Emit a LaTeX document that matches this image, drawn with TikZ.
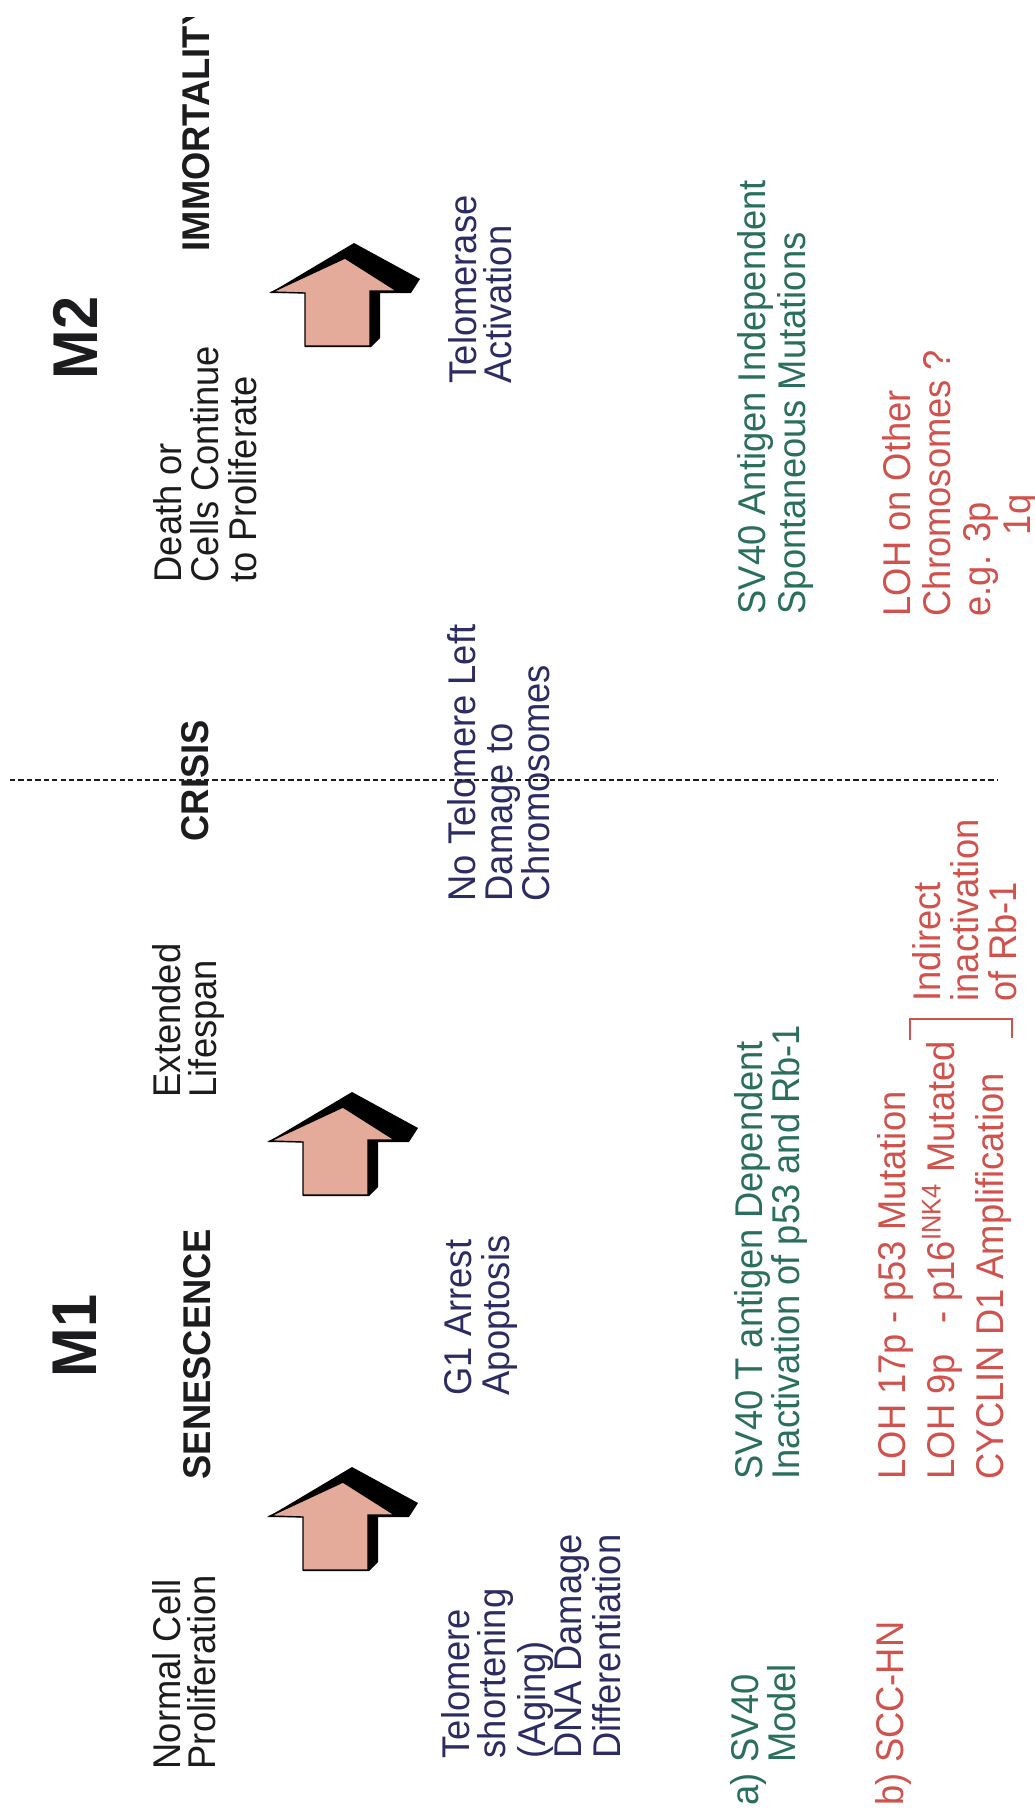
\documentclass[tikz,border=0pt]{standalone}
\usepackage{fontspec}
\setmainfont[FakeStretch=0.94]{Liberation Sans}
\definecolor{stagetext}{RGB}{28,28,30}
\definecolor{causetext}{RGB}{44,44,98}
\definecolor{sventext}{RGB}{42,110,94}
\definecolor{scctext}{RGB}{208,82,76}
\definecolor{arrowpink}{RGB}{228,170,154}

\begin{document}
\begin{tikzpicture}[x=0.1mm, y=-0.1mm, leading/.style={font=\fontsize{11}{#1}\selectfont}]
    \tikzstyle{lbl}=[rotate=90, anchor=north west, inner sep=0pt, align=left, text=stagetext, leading=10.3]
    \tikzstyle{stage}=[lbl, font=\fontsize{11}{12}\selectfont\bfseries]
    \tikzstyle{phase}=[lbl, font=\fontsize{18}{20}\selectfont\bfseries]
    \tikzstyle{divider}=[stagetext, line width=0.6pt, dash pattern=on 1.5pt off 0.9pt]
    \fill[white] (0,0) rectangle (1035,1810);
    \useasboundingbox (0,0) rectangle (1035,1810);
    \clip (0,17) rectangle (1035,1810);

    % stage titles
    \node[phase] (mone) at (52,1378) {M1};
    \node[phase] (mtwo) at (53,380) {M2};
    \node[lbl, leading=9.96] (normal) at (152,1770) {Normal Cell\\Proliferation};
    \node[stage] (senes) at (183,1480) {SENESCENCE};
    \node[lbl, leading=10.24] (extend) at (152,1098) {Extended\\Lifespan};
    \node[stage] (crisis) at (181,842) {CRISIS};
    \node[lbl, leading=10.6] (death) at (153,583) {Death or\\Cells Continue\\to Proliferate};
    \node[stage] (immort) at (182,252) {IMMORTALITY};

    % arrows
    \foreach \ax/\ay in {268/1517, 268/1142, 270/293} {
      \begin{scope}[shift={(\ax,\ay)}]
        \fill[black] (0,0) -- (84,-50) -- (150,-14) -- (141,0) -- (110,0) -- (110,45) -- (101,54) -- (35,54) -- (35,0) -- cycle;
        \filldraw[fill=arrowpink, draw=black, line width=0.4pt] (2,-1) -- (75,-35) -- (127,-2) -- (100,-2) -- (100,53) -- (35,53) -- (35,0) -- cycle;
      \end{scope}
    }

    % causes
    \node[lbl, text=causetext, leading=10.24] (telo) at (441,1759) {Telomere\\shortening\\(Aging)\\DNA Damage\\Differentiation};
    \node[lbl, text=causetext, leading=10.8] (gone) at (444,1396) {G1 Arrest\\Apoptosis};
    \node[lbl, text=causetext, leading=10.5] (notelo) at (447,902) {No Telomere Left\\Damage to\\Chromosomes};
    \node[lbl, text=causetext, leading=9.96] (telact) at (448,384) {Telomerase\\Activation};

    % crisis line
    \coordinate (divL) at (10,780);
    \coordinate (divR) at (997,780);
    \draw[divider] (divL) -- (divR);

    % a) SV40 model
    \node[lbl, text=sventext, leading=10.5] (sva) at (730,1806) {a) SV40\\\phantom{a) }Model};
    \node[lbl, text=sventext, leading=10.5] (svdep) at (734,1480) {SV40 T antigen Dependent\\Inactivation of p53 and Rb-1};
    \node[lbl, text=sventext, leading=10.24] (svind) at (737,615) {SV40 Antigen Independent\\Spontaneous Mutations};

    % b) SCC-HN
    \node[lbl, text=scctext] (sccb) at (875,1806) {b) SCC-HN};
    \node[lbl, text=scctext, leading=13.94] (lohs) at (877,1480) {LOH 17p - p53 Mutation\\LOH 9p\phantom{1} - p16\textsuperscript{INK4} Mutated\\CYCLIN D1 Amplification};
    \coordinate (brA) at (910,1040);
    \coordinate (brB) at (910,1019);
    \coordinate (brC) at (1012,1019);
    \coordinate (brD) at (1012,1038);
    \draw[scctext, line width=0.6pt] (brA) -- (brB) -- (brC) -- (brD);
    \node[lbl, text=scctext, leading=10.8] (indir) at (912,1002) {Indirect\\inactivation\\of Rb-1};
    \node[lbl, text=scctext, leading=11.38] (lohother) at (882,617) {LOH on Other\\Chromosomes ?\\e.g. 3p\\\hspace*{2.1em}1q};
  \end{tikzpicture}
\end{document}
